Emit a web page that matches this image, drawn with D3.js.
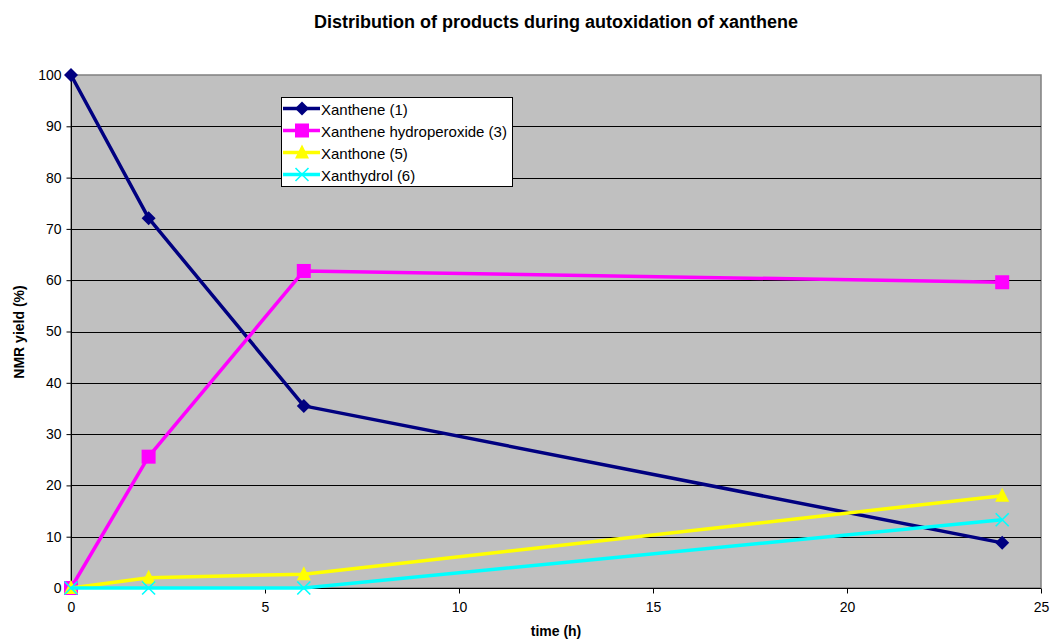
<!DOCTYPE html>
<html>
<head>
<meta charset="utf-8">
<script src="https://cdn.jsdelivr.net/npm/d3@7"></script>
<style>
  body { margin: 0; background: #fff; }
  svg { display: block; font-family: "Liberation Sans", Arial, sans-serif; }
</style>
</head>
<body>
<svg id="chart" width="1050" height="644"></svg>
<script>
// Sampling times (h)
const times = [0, 2, 6, 24];
// NMR yields (%) per product
const xanthene = [100, 72.1, 35.5, 8.8];
const hydroperoxide = [0, 25.6, 61.8, 59.6];
const xanthone = [0, 2.0, 2.7, 18.0];
const xanthydrol = [0, 0, 0, 13.3];

const seriesNames = ["Xanthene (1)", "Xanthene hydroperoxide (3)", "Xanthone (5)", "Xanthydrol (6)"];
const seriesColors = ["#000080", "#FF00FF", "#FFFF00", "#00FFFF"];
const seriesMarkers = ["diamond", "square", "triangle", "cross"];
const seriesValues = [xanthene, hydroperoxide, xanthone, xanthydrol];

const xTicks = [0, 5, 10, 15, 20, 25];
const yTicks = [0, 10, 20, 30, 40, 50, 60, 70, 80, 90, 100];

const svg = d3.select("#chart");
const plot = { left: 71, right: 1041, top: 75, bottom: 588 };

const x = d3.scaleLinear().domain([0, 25]).range([plot.left, plot.right]);
const y = d3.scaleLinear().domain([0, 100]).range([plot.bottom, plot.top]);

// Plot background
svg.append("rect")
  .attr("x", plot.left).attr("y", plot.top)
  .attr("width", plot.right - plot.left).attr("height", plot.bottom - plot.top)
  .attr("fill", "#C0C0C0")
  .attr("stroke", "#808080").attr("stroke-width", 1.5);

// Horizontal gridlines
svg.append("g").selectAll("line")
  .data(yTicks.filter(d => d > 0 && d < 100))
  .join("line")
  .attr("x1", plot.left).attr("x2", plot.right)
  .attr("y1", d => Math.round(y(d)) + 0.5).attr("y2", d => Math.round(y(d)) + 0.5)
  .attr("stroke", "#000").attr("stroke-width", 1);

// Axes
const yAxis = d3.axisLeft(y).tickValues(yTicks).tickSize(5).tickPadding(5);
const gy = svg.append("g").attr("transform", `translate(${plot.left + 0.5},0)`).call(yAxis);
const xAxis = d3.axisBottom(x).tickValues(xTicks).tickSize(5).tickPadding(9);
const gx = svg.append("g").attr("transform", `translate(0,${plot.bottom + 0.5})`).call(xAxis);
[gx, gy].forEach(g => {
  g.select(".domain").attr("stroke", "#000").attr("stroke-width", 1);
  g.selectAll(".tick line").attr("stroke", "#000");
  g.selectAll("text").attr("font-size", 14).attr("fill", "#000")
    .attr("font-family", "'Liberation Sans', Arial, sans-serif");
});
gx.select(".domain").attr("d", `M${plot.left},0H${plot.right}`);
gy.select(".domain").attr("d", `M0,${plot.bottom}V${plot.top}`);

// Marker shapes
function drawMarker(g, type, color, cx, cy) {
  if (type === "diamond") {
    g.append("path").attr("d", `M${cx},${cy - 7}L${cx + 7},${cy}L${cx},${cy + 7}L${cx - 7},${cy}Z`)
      .attr("fill", color);
  } else if (type === "square") {
    g.append("rect").attr("x", cx - 7).attr("y", cy - 7).attr("width", 14).attr("height", 14)
      .attr("fill", color);
  } else if (type === "triangle") {
    g.append("path").attr("d", `M${cx},${cy - 8}L${cx + 7},${cy + 6}L${cx - 7},${cy + 6}Z`)
      .attr("fill", color);
  } else if (type === "cross") {
    g.append("path").attr("d", `M${cx - 6.5},${cy - 6.5}L${cx + 6.5},${cy + 6.5}M${cx + 6.5},${cy - 6.5}L${cx - 6.5},${cy + 6.5}`)
      .attr("stroke", color).attr("stroke-width", 1.6).attr("fill", "none");
  }
}

// Series lines and markers
const line = d3.line().x((d, i) => x(times[i])).y(d => y(d));
seriesValues.forEach((vals, s) => {
  const g = svg.append("g");
  g.append("path").datum(vals).attr("d", line)
    .attr("fill", "none").attr("stroke", seriesColors[s]).attr("stroke-width", 3.5)
    .attr("stroke-linejoin", "round");
  vals.forEach((v, i) => drawMarker(g, seriesMarkers[s], seriesColors[s], x(times[i]), y(v)));
});

// Legend
const leg = svg.append("g");
leg.append("rect").attr("x", 281.5).attr("y", 97.5).attr("width", 231).attr("height", 89)
  .attr("fill", "#fff").attr("stroke", "#000").attr("stroke-width", 1);
seriesNames.forEach((name, s) => {
  const ly = 108.5 + s * 22;
  leg.append("line").attr("x1", 283).attr("x2", 320).attr("y1", ly).attr("y2", ly)
    .attr("stroke", seriesColors[s]).attr("stroke-width", 3.5);
  drawMarker(leg, seriesMarkers[s], seriesColors[s], 302, ly);
  leg.append("text").attr("x", 321).attr("y", ly + 6).attr("font-size", 15).attr("fill", "#000")
    .text(name);
});

// Titles
svg.append("text").attr("x", 556).attr("y", 28).attr("text-anchor", "middle")
  .attr("font-size", 18).attr("font-weight", "bold").text("Distribution of products during autoxidation of xanthene");
svg.append("text").attr("x", 556).attr("y", 636).attr("text-anchor", "middle")
  .attr("font-size", 14).attr("font-weight", "bold").text("time (h)");
svg.append("text").attr("transform", "translate(24,332) rotate(-90)").attr("text-anchor", "middle")
  .attr("font-size", 14).attr("font-weight", "bold").text("NMR yield (%)");
</script>
</body>
</html>
